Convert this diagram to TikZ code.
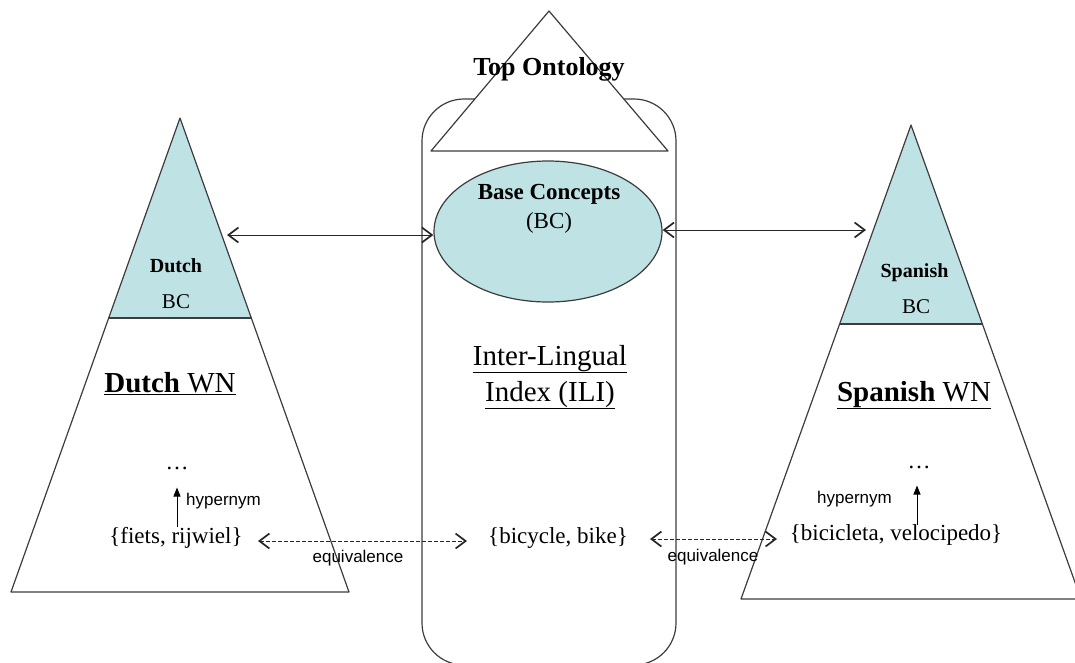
\documentclass[tikz,border=0pt]{standalone}
\usepackage{fontspec}
\setmainfont{Liberation Serif}
\newfontfamily\labelfont{Liberation Sans}
\usetikzlibrary{arrows.meta,shapes.geometric}
\definecolor{bcfill}{HTML}{BFE2E4}
\definecolor{edge}{HTML}{3C3C3C}
\newcommand\setfs[1]{\fontsize{#1}{#1}\selectfont}

\begin{document}
\begin{tikzpicture}[x=1pt,y=-1pt,
  outline/.style={draw=edge,line width=1.2pt,line join=round},
  txt/.style={inner sep=0pt,anchor=base},
  barb/.tip={Straight Barb[length=10pt,width=15pt,line width=1.7pt]},
  link/.style={draw=black!85,line width=0.9pt,barb-barb},
  equiv/.style={link,dash pattern=on 3.5pt off 2.5pt},
  hyp/.style={draw=black,line width=1pt,-{Triangle[length=9pt,width=7pt]}}
  ]
\useasboundingbox (0,0) rectangle (1075,662);
\clip (0,0) rectangle (1075,662);

% Inter-Lingual Index column
\draw[outline,rounded corners=42pt] (422,665) rectangle (676,99);

% Top ontology triangle sitting on the column
\filldraw[outline,fill=white] (549,11) -- (431,151) -- (668,151) -- cycle;
\node[txt,font={\bfseries\setfs{26}}] (topont) at (549,75) {Top Ontology};

% Base concepts ellipse
\node[ellipse,outline,fill=bcfill,minimum width=228pt,minimum height=141pt,inner sep=0pt]
  (bc) at (548,231.5) {};
\node[txt,font={\bfseries\setfs{23}}] (bctitle) at (549,199) {Base Concepts};
\node[txt,font=\setfs{23}] (bcabbr) at (549,228) {(BC)};

\node[txt,font=\setfs{29}] (ili1) at (550,365) {\underline{Inter-Lingual}};
\node[txt,font=\setfs{29}] (ili2) at (550,401) {\underline{Index (ILI)}};
\node[txt,font=\setfs{23}] (bike) at (558,543) {\{bicycle, bike\}};

% Dutch wordnet
\fill[bcfill] (180,118) -- (108.7,318) -- (251.3,318) -- cycle;
\draw[outline] (180,118) -- (11,592) -- (349,592) -- cycle;
\draw[outline] (108.7,318) -- (251.3,318);
\node[txt,font={\bfseries\setfs{20}}] (dutchbc) at (176,272) {Dutch};
\node[txt,font=\setfs{21}] (dutchbcabbr) at (176,308) {BC};
\node[txt,font=\setfs{29}] (dutchwn) at (170,392) {\underline{\textbf{Dutch} WN}};
\node[txt,font=\setfs{23}] (dutchdots) at (177,469) {…};
\node[txt,font=\setfs{23}] (fiets) at (176,543) {\{fiets, rijwiel\}};
\node[txt,font={\labelfont\setfs{17}},anchor=base west] (dutchhyp) at (186,505) {hypernym};

% Spanish wordnet
\fill[bcfill] (911,125) -- (839.6,324) -- (982.4,324) -- cycle;
\draw[outline] (911,125) -- (741,599) -- (1081,599) -- cycle;
\draw[outline] (839.6,324) -- (982.4,324);
\node[txt,font={\bfseries\setfs{20}}] (spanbc) at (914.5,277) {Spanish};
\node[txt,font=\setfs{21}] (spanbcabbr) at (916,313) {BC};
\node[txt,font=\setfs{29}] (spanwn) at (914,401) {\underline{\textbf{Spanish} WN}};
\node[txt,font=\setfs{23}] (spandots) at (919,468) {…};
\node[txt,font=\setfs{23}] (bicicleta) at (896,540) {\{bicicleta, velocipedo\}};
\node[txt,font={\labelfont\setfs{17}},anchor=base west] (spanhyp) at (817,503) {hypernym};

% links between the base concept sets
\coordinate (dutchedge) at (227,235);
\coordinate (spanedge) at (866,230);
\draw[link] (dutchedge) -- ([yshift=-3.5pt]bc.west);
\draw[link] ([yshift=1.5pt]bc.east) -- (spanedge);

% hypernym relations
\coordinate (dutchhypfoot) at (177,527);
\coordinate (spanhypfoot) at (917,525);
\draw[hyp] (dutchhypfoot) -- ([yshift=-18pt]dutchdots.south -| dutchhypfoot);
\draw[hyp] (spanhypfoot) -- ([yshift=-17pt]spandots.south -| spanhypfoot);

% equivalence relations
\coordinate (eqa) at (258,541);
\coordinate (eqb) at (467,541);
\coordinate (eqc) at (650,539);
\coordinate (eqd) at (777,539);
\draw[equiv] (eqa) -- (eqb);
\draw[equiv] (eqc) -- (eqd);
\node[txt,font={\labelfont\setfs{17}}] (eqlabela) at (358,562) {equivalence};
\node[txt,font={\labelfont\setfs{17}}] (eqlabelb) at (713,561) {equivalence};
\end{tikzpicture}
\end{document}
